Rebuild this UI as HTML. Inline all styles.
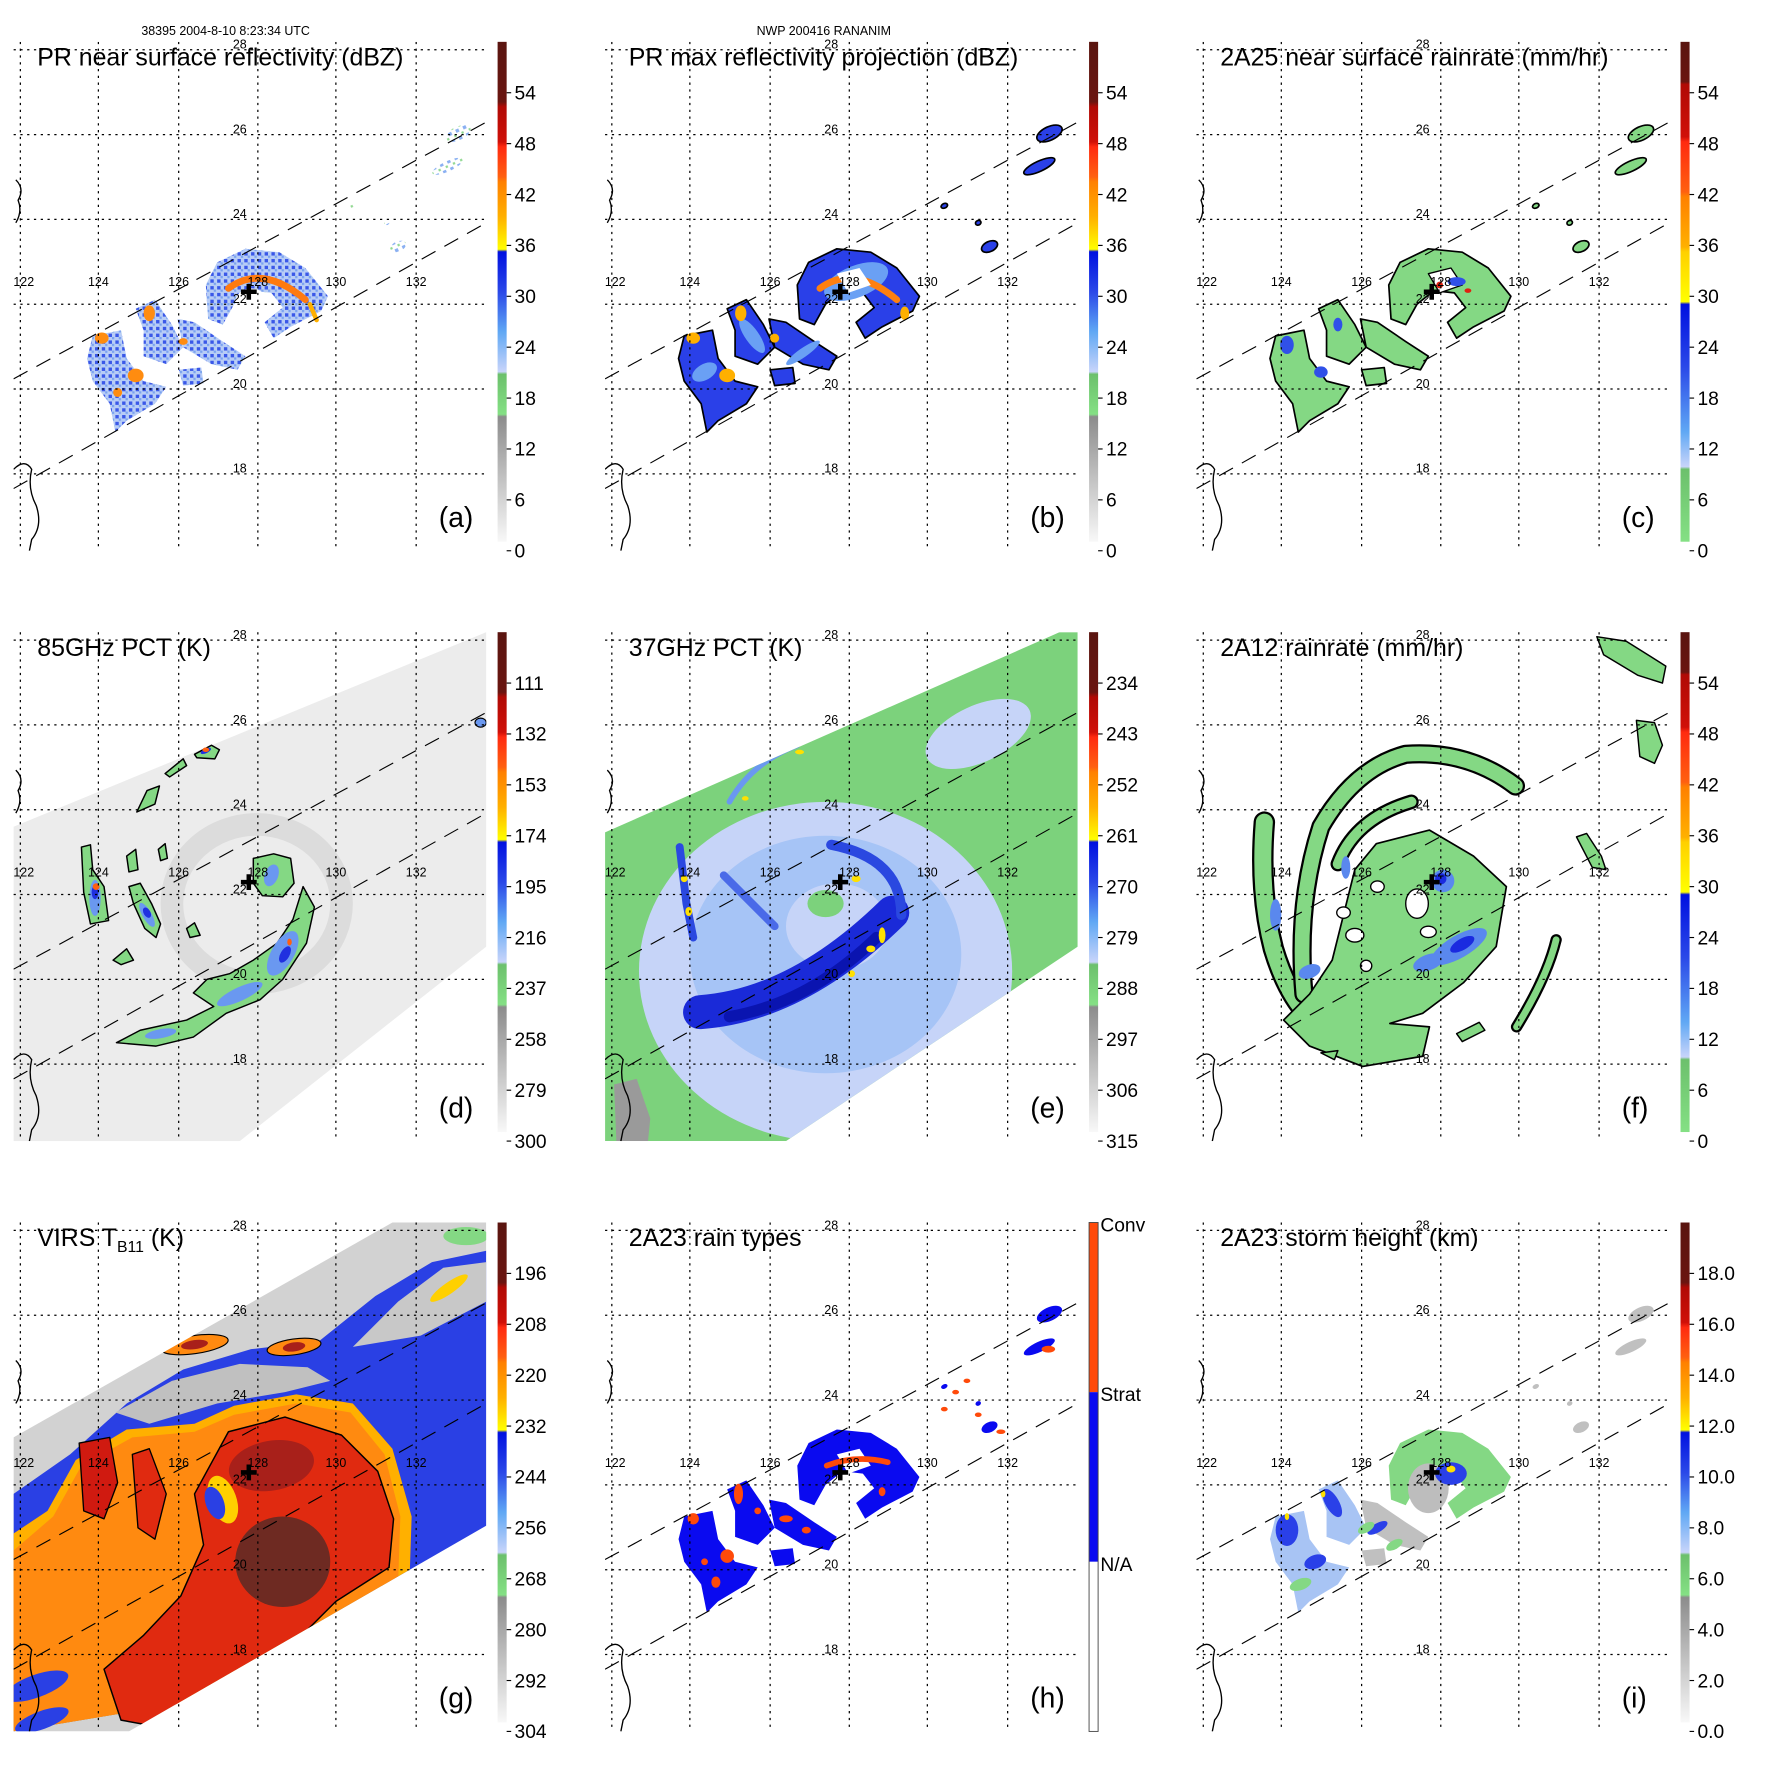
<!DOCTYPE html>
<html><head><meta charset="utf-8"><style>
html,body{margin:0;padding:0;background:#fff}
svg{display:block;font-family:"Liberation Sans",Arial,sans-serif}
</style></head><body>
<svg id="fig" xmlns="http://www.w3.org/2000/svg" width="1771" height="1771" viewBox="0 0 1566 1566">
<defs>
<linearGradient id="gStd" x1="0" y1="0" x2="0" y2="1">
<stop offset="0" stop-color="#5a1510"/><stop offset="0.12" stop-color="#6a1510"/><stop offset="0.13" stop-color="#b00a05"/><stop offset="0.2" stop-color="#d01008"/><stop offset="0.21" stop-color="#ff2a10"/><stop offset="0.27" stop-color="#ff6010"/><stop offset="0.28" stop-color="#ff8000"/><stop offset="0.35" stop-color="#ffb000"/><stop offset="0.415" stop-color="#ffff00"/><stop offset="0.42" stop-color="#0010e0"/><stop offset="0.5" stop-color="#2a48e8"/><stop offset="0.58" stop-color="#60a8f4"/><stop offset="0.66" stop-color="#c8d4fa"/><stop offset="0.665" stop-color="#6cc06c"/><stop offset="0.745" stop-color="#84e084"/><stop offset="0.75" stop-color="#8c8c8c"/><stop offset="1" stop-color="#f8f8f8"/>
</linearGradient>
<linearGradient id="gRain" x1="0" y1="0" x2="0" y2="1">
<stop offset="0" stop-color="#5a1510"/><stop offset="0.08" stop-color="#6a1510"/><stop offset="0.085" stop-color="#b00a05"/><stop offset="0.19" stop-color="#d01008"/><stop offset="0.2" stop-color="#ff2a10"/><stop offset="0.3" stop-color="#ff6010"/><stop offset="0.31" stop-color="#ff8000"/><stop offset="0.41" stop-color="#ffb000"/><stop offset="0.42" stop-color="#ffd000"/><stop offset="0.52" stop-color="#ffff00"/><stop offset="0.525" stop-color="#0010e0"/><stop offset="0.65" stop-color="#2a48e8"/><stop offset="0.78" stop-color="#60a8f4"/><stop offset="0.85" stop-color="#c8d4fa"/><stop offset="0.855" stop-color="#6cc06c"/><stop offset="1" stop-color="#84e084"/>
</linearGradient>
<pattern id="speckle" width="6" height="6" patternUnits="userSpaceOnUse">
<rect width="6" height="6" fill="#b8cdf6"/><rect x="0" y="0" width="3" height="3" fill="#3a58e8"/><rect x="3" y="3" width="2" height="2" fill="#7aa2f0"/>
</pattern>
<pattern id="speckleLight" width="7" height="7" patternUnits="userSpaceOnUse">
<rect width="7" height="7" fill="#ffffff"/><rect x="0" y="0" width="3" height="3" fill="#8ab0f2"/><rect x="4" y="4" width="2" height="2" fill="#90d890"/>
</pattern>
<clipPath id="plotClip"><rect x="0" y="0" width="418" height="450"/></clipPath>
<clipPath id="tmiClip"><polygon points="0,177 402,0 418,0 418,278 160,450 0,450"/></clipPath>
<clipPath id="virsClip"><polygon points="0,190 335,0 418,0 418,268 102,450 0,450"/></clipPath>
</defs>
<text x="125" y="31" font-size="11">38395 2004-8-10 8:23:34 UTC</text>
<text x="669" y="31" font-size="11">NWP 200416 RANANIM</text>
</svg>
<script>
const NS='http://www.w3.org/2000/svg';
const svg=document.getElementById('fig');
function mk(tag,attrs,parent){const e=document.createElementNS(NS,tag);for(const k in attrs)e.setAttribute(k,attrs[k]);parent.appendChild(e);return e;}

// ---- data arrays ----
const panelTitles=['PR near surface reflectivity (dBZ)','PR max reflectivity projection (dBZ)','2A25 near surface rainrate (mm/hr)','85GHz PCT (K)','37GHz PCT (K)','2A12 rainrate (mm/hr)','VIRS','2A23 rain types','2A23 storm height (km)'];
const panelLetters=['(a)','(b)','(c)','(d)','(e)','(f)','(g)','(h)','(i)'];
const cbLabelsA=['54','48','42','36','30','24','18','12','6','0'];
const cbLabelsC=['54','48','42','36','30','24','18','12','6','0'];
const cbLabelsD=['111','132','153','174','195','216','237','258','279','300'];
const cbLabelsE=['234','243','252','261','270','279','288','297','306','315'];
const cbLabelsG=['196','208','220','232','244','256','268','280','292','304'];
const cbLabelsH=['Conv','Strat','N/A'];
const cbLabelsI=['18.0','16.0','14.0','12.0','10.0','8.0','6.0','4.0','2.0','0.0'];
const lonLabels=['122','124','126','128','130','132'];
const latLabels=['28','26','24','22','20','18'];

const colX=[12,535,1058], rowY=[37,559,1081];
const lonX=[6,75,146,216,285,356], latY=[7,82,157,232,307,382];

const PR_EYE=[[170,215],[180,195],[205,183],[235,186],[258,200],[278,225],[272,238],[245,252],[230,262],[222,248],[238,235],[228,222],[210,220],[195,232],[185,250],[172,245]];
const PR_C1=[[108,236],[125,228],[140,250],[150,270],[135,285],[115,278],[115,255]];
const PR_C2=[[145,245],[160,248],[185,265],[205,278],[198,290],[175,285],[150,270]];
const PR_C3=[[70,260],[95,255],[100,280],[115,300],[135,305],[125,320],[100,335],[90,345],[85,320],[70,300],[65,280]];
const PR_C4=[[146,290],[166,288],[168,302],[150,304]];
const PR_FAR=[[393,81,24,12],[384,110,30,9],[340,181,15,9],[300,145,6,4],[330,160,5,4]];
const PR_CELLS=[PR_EYE,PR_C1,PR_C2,PR_C3,PR_C4];

function pts(a){return a.map(p=>p.join(',')).join(' ');}

function panel(i){
  const c=i%3, r=Math.floor(i/3);
  const g=mk('g',{transform:`translate(${colX[c]},${rowY[r]})`},svg);
  
  
  const plot=mk('g',{'clip-path':'url(#plotClip)'},g);
  
  
  return {g,plot};
}
function cell(parent,arr,fill,stroke,sw){
  const p=mk('polygon',{points:pts(arr),fill:fill,stroke:stroke||'none','stroke-width':sw||0,'stroke-linejoin':'round'},parent);
  
  
  return p;
}
function blob(parent,x,y,rx,ry,rot,fill,stroke,sw){
  const e=mk('ellipse',{cx:x,cy:y,rx:rx,ry:ry,transform:`rotate(${rot} ${x} ${y})`,fill:fill,stroke:stroke||'none','stroke-width':sw||0},parent);
  
  
  return e;
}
function path(parent,d,stroke,w,fill){
  const p=mk('path',{d:d,stroke:stroke,'stroke-width':w,fill:fill||'none','stroke-linecap':'round','stroke-linejoin':'round'},parent);
  
  
  return p;
}
function farSpecks(parent,fill,stroke){
  PR_FAR.forEach(f=>blob(parent,f[0],f[1],f[2]/2,f[3]/2,-25,fill,stroke,stroke?1.5:0));
}

function overlays(P,i,labels,grad){
  const plot=P.plot,g=P.g;
  lonX.forEach((x,k)=>{
    const l=mk('line',{x1:x,y1:0,x2:x,y2:450,stroke:'#000','stroke-width':1.1,'stroke-dasharray':'2,4'},plot);
    
    
    const t=mk('text',{x:k===0?9:x,y:216,'font-size':11,'text-anchor':'middle'},g);
    
    
    t.textContent=lonLabels[k];
  });
  latY.forEach((y,k)=>{
    const l=mk('line',{x1:0,y1:y,x2:418,y2:y,stroke:'#000','stroke-width':1.1,'stroke-dasharray':'2,4'},plot);
    
    
    const t=mk('text',{x:200,y:y-1,'font-size':11,'text-anchor':'middle'},g);
    
    
    t.textContent=latLabels[k];
  });
  const s1=mk('line',{x1:0,y1:298,x2:418,y2:71,stroke:'#000','stroke-width':1,'stroke-dasharray':'14,9'},plot);
  
  
  const s2=mk('line',{x1:0,y1:395,x2:418,y2:160,stroke:'#000','stroke-width':1,'stroke-dasharray':'14,9'},plot);
  
  
  const cst=mk('path',{d:'M2,160 Q8,150 4,140 Q10,130 2,122 M0,378 Q10,368 16,378 Q12,395 20,410 Q26,428 16,440 L14,450',stroke:'#000','stroke-width':1.2,fill:'none'},plot);
  
  
  const cr=mk('path',{d:'M201,221 H215 M208,214 V228',stroke:'#000','stroke-width':4},plot);
  
  
  const tt=mk('text',{x:21,y:21,'font-size':22},g);
  
  
  if(i===6){
    tt.textContent='VIRS T';
    const sub=mk('tspan',{'font-size':14,dy:5},tt);
    sub.textContent='B11';
    const rest=mk('tspan',{dy:-5},tt);
    rest.textContent=' (K)';
  } else tt.textContent=panelTitles[i];
  const lt=mk('text',{x:376,y:429,'font-size':25},g);
  
  
  lt.textContent=panelLetters[i];
  const cb=mk('g',{},g);
  
  
  if(i===7){
    const segs=[['#ff4a0a',0,150],['#0a0af0',150,300],['#ffffff',300,450]];
    segs.forEach(s=>{
      const rc=mk('rect',{x:428,y:s[1],width:8,height:s[2]-s[1],fill:s[0]},cb);
      
      
    });
    mk('rect',{x:428,y:0,width:8,height:450,fill:'none',stroke:'#444','stroke-width':0.8},cb);
    labels.forEach((lb,k)=>{
      const t=mk('text',{x:438,y:k*150+8,'font-size':17},cb);
      
      
      t.textContent=lb;
    });
  } else {
    const rc=mk('rect',{x:428,y:0,width:8,height:442,fill:'url(#'+grad+')'},cb);
    
    
    labels.forEach((lb,k)=>{
      const y=45*(k+1);
      mk('line',{x1:436,y1:y,x2:440,y2:y,stroke:'#000','stroke-width':1},cb);
      const t=mk('text',{x:443,y:y+6,'font-size':17},cb);
      
      
      t.textContent=lb;
    });
  }
}

// ---- (a) PR near surface ----
let P=panel(0);
PR_CELLS.forEach(a=>cell(P.plot,a,'url(#speckleLight)'));
PR_CELLS.forEach(a=>cell(P.plot,a.map(p=>[p[0],p[1]]),'url(#speckle)'));
blob(P.plot,210,230,14,12,0,'#ffffff');
path(P.plot,'M190,218 Q220,196 258,228','#ff7a10',6);
path(P.plot,'M262,232 L268,246','#ffb000',4);
[[78,262,6,5],[108,295,7,6],[120,240,5,7],[92,310,4,4],[150,265,4,3]].forEach(b=>blob(P.plot,b[0],b[1],b[2],b[3],0,'#ff8c10'));
farSpecks(P.plot,'url(#speckleLight)');
overlays(P,0,cbLabelsA,'gStd');

// ---- (b) PR max ----
P=panel(1);
PR_CELLS.forEach(a=>cell(P.plot,a,'#2a40e8','#000',1.5));
[[222,212,30,14,-22],[130,260,6,18,-35],[88,292,12,7,-30],[175,275,18,4,-35]].forEach(b=>blob(P.plot,b[0],b[1],b[2],b[3],b[4],'#6aa0f4'));
path(P.plot,'M190,218 Q220,196 258,228','#ff8010',6);
[[78,262,6,5],[108,295,7,6],[120,240,5,7],[265,240,4,6],[150,262,4,4]].forEach(b=>blob(P.plot,b[0],b[1],b[2],b[3],0,'#ffb000'));
cell(P.plot,[[205,205],[225,200],[235,215],[215,222]],'#fff');
farSpecks(P.plot,'#2a40e8','#000');
overlays(P,1,cbLabelsA,'gStd');

// ---- (c) 2A25 rain ----
P=panel(2);
PR_CELLS.forEach(a=>cell(P.plot,a,'#84d884','#000',1.5));
cell(P.plot,[[205,205],[225,200],[235,215],[215,222]],'#fff','#000',1.2);
[[80,268,6,8],[110,292,6,5],[230,212,8,4],[125,250,4,6]].forEach(b=>blob(P.plot,b[0],b[1],b[2],b[3],0,'#3050e8'));
[[215,215,3,3],[240,220,3,2]].forEach(b=>blob(P.plot,b[0],b[1],b[2],b[3],0,'#e02010'));
farSpecks(P.plot,'#84d884','#000');
overlays(P,2,cbLabelsC,'gRain');

// ---- (d) 85GHz ----
P=panel(3);
let sw=mk('polygon',{points:'0,172 418,0 418,278 200,450 0,450',fill:'#ececec'},P.plot);


mk('ellipse',{cx:215,cy:240,rx:75,ry:70,fill:'none',stroke:'#dcdcdc','stroke-width':20},P.plot);
const D_BAND=[[91,363],[126,366],[159,358],[188,337],[218,325],[238,307],[259,275],[266,243],[256,225],[247,254],[233,275],[212,290],[191,302],[171,307],[159,319],[177,331],[153,343],[112,352]];
const D_EYE=[[212,200],[230,196],[245,200],[248,222],[238,234],[220,233],[212,222]];
const D_L1=[[60,190],[68,188],[70,210],[80,225],[84,255],[68,258],[62,230]];
const D_L2=[[102,225],[112,222],[122,240],[130,258],[126,270],[116,262],[106,240]];
[D_BAND,D_EYE,D_L1,D_L2,[[109,159],[118,140],[129,136],[125,152]],[[134,125],[150,112],[153,118],[138,128]],[[160,108],[175,100],[182,104],[178,112],[162,111]],[[88,290],[100,280],[106,290],[95,294]],[[153,262],[160,257],[165,268],[156,270]],[[100,198],[108,192],[110,210],[102,212]],[[128,192],[134,187],[136,200],[130,202]]].forEach(a=>cell(P.plot,a,'#84d884','#000',1.3));
[[238,284,10,22,30],[228,215,6,10,20],[72,235,5,16,0],[118,250,4,12,-30],[200,320,22,6,-25],[130,355,14,4,-10]].forEach(b=>blob(P.plot,b[0],b[1],b[2],b[3],b[4],'#6a98f0'));
[[240,285,4,8,30],[72,230,3,6,0],[118,248,3,5,-30],[170,105,5,2,-25]].forEach(b=>blob(P.plot,b[0],b[1],b[2],b[3],b[4],'#2030e0'));
[[73,225,3,3,0],[170,104,3,2,0],[244,274,2,3,0]].forEach(b=>blob(P.plot,b[0],b[1],b[2],b[3],b[4],'#ff6010'));
blob(P.plot,413,80,5,4,0,'#6a98f0','#000',1);
overlays(P,3,cbLabelsD,'gStd');

// ---- (e) 37GHz ----
P=panel(4);
const eg=mk('g',{'clip-path':'url(#tmiClip)'},P.plot);


mk('rect',{x:0,y:0,width:418,height:450,fill:'#7cd27c'},eg);
blob(eg,195,300,165,150,0,'#c6d4f8');
blob(eg,195,285,120,105,0,'#a6c4f6');
blob(eg,205,260,45,38,0,'#c6d4f8');
blob(eg,195,240,16,12,0,'#7cd27c');
blob(eg,330,90,50,25,-25,'#c6d4f8');
path(eg,'M84,336 Q170,330 254,248','#1a2ad8',30);
path(eg,'M110,340 Q180,328 240,270','#0a14b0',10);
path(eg,'M200,188 Q262,200 262,250','#2a48e0',9);
path(eg,'M66,190 L72,240 L78,270','#2a48e0',7);
path(eg,'M105,215 Q130,240 150,260','#4a6ae8',7);
path(eg,'M110,150 Q130,115 170,100','#6a98f0',5);
[[245,268,3,7,0],[235,280,4,3,0],[218,302,3,3,0],[70,218,3,3,0],[74,247,3,4,0],[172,106,4,2,0],[124,147,3,2,0],[222,218,4,3,0]].forEach(b=>blob(eg,b[0],b[1],b[2],b[3],b[4],'#ffe000'));
mk('polygon',{points:'8,400 28,395 40,430 38,450 10,450',fill:'#9a9a9a'},eg);
overlays(P,4,cbLabelsE,'gStd');

// ---- (f) 2A12 ----
P=panel(5);
const F_CORE=[[159,187],[206,175],[245,198],[274,225],[265,278],[236,310],[200,337],[171,346],[206,349],[200,375],[147,384],[100,366],[77,343],[100,320],[120,290],[130,250],[140,210]];
path(P.plot,'M60,168 Q55,230 68,280 Q80,320 100,340','#000',19);
path(P.plot,'M60,168 Q55,230 68,280 Q80,320 100,340','#84d884',15);
path(P.plot,'M95,320 Q88,240 110,172 Q140,120 185,108 Q240,104 282,136','#000',17);
path(P.plot,'M95,320 Q88,240 110,172 Q140,120 185,108 Q240,104 282,136','#84d884',13);
path(P.plot,'M125,205 Q140,165 190,150','#000',13);
path(P.plot,'M125,205 Q140,165 190,150','#84d884',9);
path(P.plot,'M318,272 Q310,305 283,349','#000',10);
path(P.plot,'M318,272 Q310,305 283,349','#84d884',6);
cell(P.plot,F_CORE,'#84d884','#000',1.5);
[[[354,4],[380,8],[415,30],[412,45],[390,38],[360,20]],[[389,78],[405,80],[412,100],[405,116],[392,110]],[[336,181],[345,178],[358,198],[362,210],[350,208]],[[110,372],[125,370],[122,378]],[[230,355],[250,345],[255,352],[235,362]]].forEach(a=>cell(P.plot,a,'#84d884','#000',1.3));
[[195,240,10,13,0],[140,268,8,6,0],[130,248,6,5,0],[160,225,6,5,0],[150,295,5,5,0],[205,265,7,5,0]].forEach(b=>blob(P.plot,b[0],b[1],b[2],b[3],b[4],'#fff','#000',1.2));
[[218,220,10,10,0],[232,278,28,10,-30],[205,292,14,7,-20],[70,250,5,14,0],[100,300,10,6,-20],[132,208,4,10,0]].forEach(b=>blob(P.plot,b[0],b[1],b[2],b[3],b[4],'#5a88ee'));
[[216,218,5,5,0],[235,276,12,5,-30]].forEach(b=>blob(P.plot,b[0],b[1],b[2],b[3],b[4],'#1a2ae0'));
overlays(P,5,cbLabelsC,'gRain');

// ---- (g) VIRS ----
P=panel(6);
const gg=mk('g',{'clip-path':'url(#virsClip)'},P.plot);


mk('rect',{x:0,y:0,width:418,height:450,fill:'#d2d2d2'},gg);
cell(gg,[[0,240],[50,205],[100,160],[150,130],[210,112],[270,105],[320,65],[370,35],[418,25],[418,280],[300,400],[0,450]],'#2a40e4');
cell(gg,[[300,110],[340,70],[380,40],[418,35],[418,70],[360,100]],'#c8c8c8');
cell(gg,[[90,168],[140,140],[200,125],[260,128],[280,140],[240,150],[180,160],[120,178]],'#c0c0c0');
cell(gg,[[0,275],[30,255],[55,210],[100,183],[160,178],[195,162],[250,152],[300,160],[335,200],[352,260],[350,320],[300,400],[0,450]],'#ffb000');
cell(gg,[[0,290],[35,260],[60,215],[105,190],[160,185],[195,170],[250,160],[298,168],[328,205],[342,260],[340,320],[300,400],[0,450]],'#ff8a10');
cell(gg,[[190,185],[240,172],[290,188],[322,220],[336,262],[332,305],[285,335],[235,385],[200,430],[150,450],[95,440],[80,395],[115,365],[148,330],[168,285],[160,240]],'#e02a10','#000',1.3);
cell(gg,[[58,195],[85,190],[92,230],[80,262],[62,255]],'#d01a10','#000',1.2);
cell(gg,[[105,205],[120,200],[135,240],[125,280],[110,270]],'#e02a10','#000',1.2);
blob(gg,238,300,42,40,0,'#6e2a22');
blob(gg,228,215,38,22,-10,'#a8201a');
blob(gg,185,245,12,22,-20,'#ffd000');
blob(gg,178,248,8,15,-20,'#2a40e4');
blob(gg,160,108,30,8,-8,'#ff8a10','#000',1);
blob(gg,248,110,24,7,-8,'#ff8a10','#000',1);
blob(gg,160,108,12,4,-8,'#a8201a');
blob(gg,248,110,10,4,-8,'#a8201a');
blob(gg,385,58,20,5,-35,'#ffd000');
blob(gg,20,410,30,10,-20,'#2a40e4');
blob(gg,25,440,25,8,-20,'#2a40e4');
blob(gg,60,120,10,6,0,'#84d884');
blob(gg,400,12,20,8,0,'#84d884');
overlays(P,6,cbLabelsG,'gStd');

// ---- (h) rain types ----
P=panel(7);
PR_CELLS.forEach(a=>cell(P.plot,a,'#0a0af0'));
cell(P.plot,[[205,205],[225,200],[235,215],[215,222]],'#fff');
path(P.plot,'M196,215 Q222,205 250,212','#ff4a0a',5);
[[78,262,5,5],[108,295,6,6],[118,240,4,9],[98,318,4,5],[160,262,6,3],[178,272,4,3],[135,255,3,3],[245,238,3,4],[88,300,3,3]].forEach(b=>blob(P.plot,b[0],b[1],b[2],b[3],0,'#ff4a0a'));
farSpecks(P.plot,'#0a0af0');
[[392,112,6,3],[310,150,3,2],[320,140,3,2],[330,170,3,2],[300,165,3,2],[350,185,4,2]].forEach(b=>blob(P.plot,b[0],b[1],b[2],b[3],0,'#ff4a0a'));
overlays(P,7,cbLabelsH,'gStd');

// ---- (i) storm height ----
P=panel(8);
cell(P.plot,PR_EYE,'#84d884');
[PR_C1,PR_C3].forEach(a=>cell(P.plot,a,'#a8c4f4'));
[PR_C2,PR_C4].forEach(a=>cell(P.plot,a,'#c0c0c0'));
blob(P.plot,205,235,18,22,0,'#bdbdbd');
[[225,222,14,10,0],[120,248,6,14,-30],[80,272,10,14,0],[105,300,10,6,-20],[160,270,10,4,-30]].forEach(b=>blob(P.plot,b[0],b[1],b[2],b[3],b[4],'#2a40e8'));
[[92,320,10,5,-20],[150,270,8,4,-30],[175,285,8,4,-30]].forEach(b=>blob(P.plot,b[0],b[1],b[2],b[3],b[4],'#84d884'));
[[225,218,4,3],[80,260,2,3],[112,240,2,3]].forEach(b=>blob(P.plot,b[0],b[1],b[2],b[3],0,'#ffe000'));
farSpecks(P.plot,'#c0c0c0');
overlays(P,8,cbLabelsI,'gStd');
</script>
</body></html>
